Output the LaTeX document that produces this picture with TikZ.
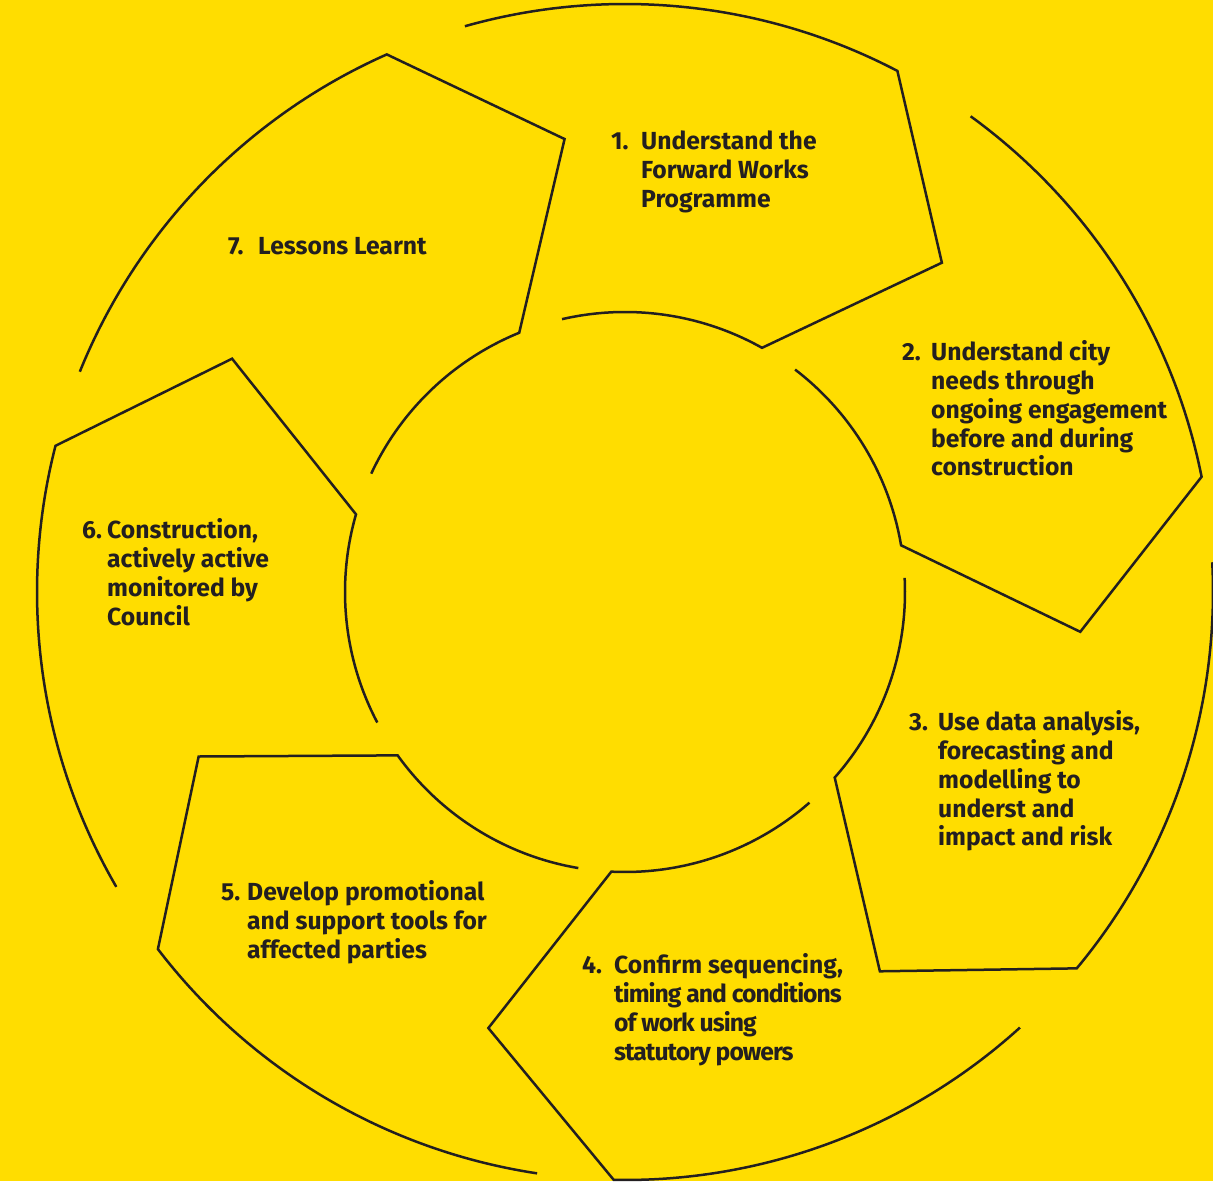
\documentclass[tikz,border=0pt]{standalone}
\usepackage{fontspec}
\setmainfont{Fira Sans}
\usetikzlibrary{calc}
\definecolor{bgyellow}{RGB}{255,221,0}
\definecolor{ink}{RGB}{35,31,32}
\newcommand\stepfont{\fontsize{24.7}{28.7}\selectfont\bfseries}
\newcommand\tightset{\addfontfeature{LetterSpace=-4}}
% number column of width #1 holding #2, followed by the step text
\newcommand\stepnum[2]{\makebox[#1][l]{#2}}

\begin{document}
\begin{tikzpicture}[x=1pt,y=1pt,
  ring/.style={draw=ink, line width=2.5pt, line join=miter},
  lbl/.style={anchor=base west, inner sep=0pt, text=ink, font=\stepfont}]
\fill[bgyellow] (0,0) rectangle (1213,1181);
\useasboundingbox (0,0) rectangle (1213,1181);
\coordinate (c) at (625,589);

% seven arrow-shaped ring segments, each pointing clockwise:
% tip angle / outer tail angle / inner tail angle
\foreach \t/\os/\is [count=\k] in {46.1/105.8/103.0, -5.0/54.0/52.6,
    -56.1/2.9/2.9, -107.4/-47.8/-48.8, -158.9/-98.6/-99.6,
    -210.7/-149.9/-152.2, -262.4/-202.0/-205.0}{
  \coordinate (os\k) at ($(c)+(\os:588)$);
  \coordinate (tip\k) at ($(c)+(\t:457)$);
  \coordinate (ie\k) at ($(c)+(\t+14.6:280)$);
  \draw[ring] (os\k) arc[start angle=\os, end angle=\t+16.3, radius=588]
     -- (tip\k) -- (ie\k)
     arc[start angle=\t+14.6, end angle=\is, radius=280];
}

% step labels
\node[lbl] (s1) at (611,1031) {\begin{tabular}[t]{@{}l@{}l@{}}
  \stepnum{30pt}{1.} & Understand the\\ & Forward Works\\ & Programme\end{tabular}};
\node[lbl] (s2) at (902,820) {\begin{tabular}[t]{@{}l@{}l@{}}
  \stepnum{29pt}{2.} & Understand city\\ & needs through\\ & ongoing engagement\\
  & before and during\\ & construction\end{tabular}};
\node[lbl] (s3) at (909,450) {\begin{tabular}[t]{@{}l@{}l@{}}
  \stepnum{29pt}{3.} & Use data analysis,\\ & forecasting and\\ & modelling to\\
  & underst and\\ & impact and risk\end{tabular}};
\node[lbl] (s4) at (582,207) {\begin{tabular}[t]{@{}l@{}l@{}}
  \stepnum{32pt}{4.} & Confirm sequencing,\\ & {\tightset timing and conditions}\\
  & {\tightset of work using}\\ & {\tightset statutory powers}\end{tabular}};
\node[lbl] (s5) at (221,280) {\begin{tabular}[t]{@{}l@{}l@{}}
  \stepnum{26pt}{5.} & Develop promotional\\ & and support tools for\\
  & affected parties\end{tabular}};
\node[lbl] (s6) at (82,642) {\begin{tabular}[t]{@{}l@{}l@{}}
  \stepnum{25pt}{6.} & Construction,\\ & actively active\\ & monitored by\\
  & Council\end{tabular}};
\node[lbl] (s7) at (228,926) {\begin{tabular}[t]{@{}l@{}l@{}}
  \stepnum{30pt}{7.} & Lessons Learnt\end{tabular}};
\end{tikzpicture}
\end{document}
